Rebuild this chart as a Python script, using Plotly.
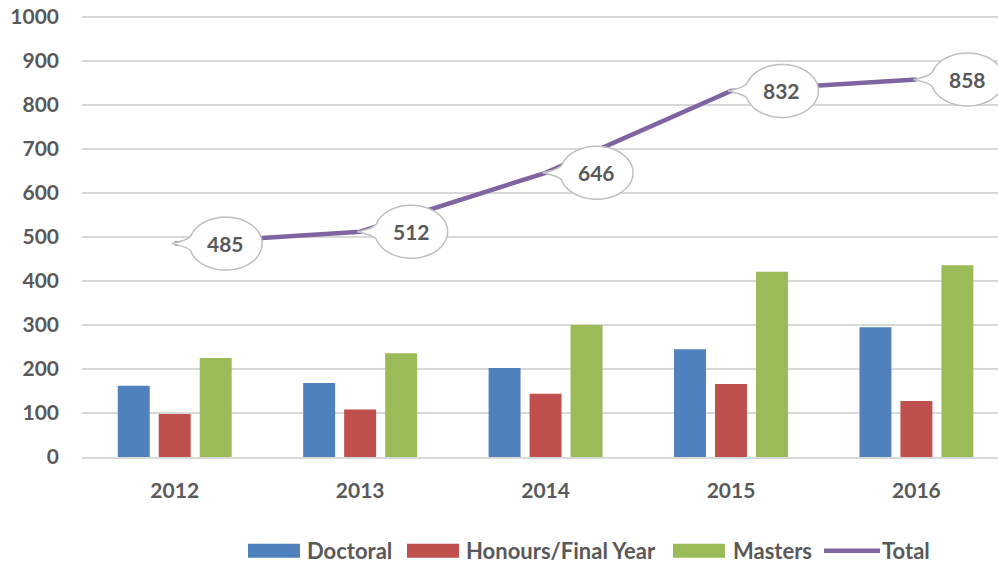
import math
import plotly.graph_objects as go

years = ["2012", "2013", "2014", "2015", "2016"]
doctoral = [162, 168, 202, 245, 295]
honours = [98, 108, 144, 166, 127]
masters = [225, 236, 300, 421, 436]
total = [485, 512, 646, 832, 858]

series_names = ["Doctoral", "Honours/Final Year", "Masters", "Total"]
colors = ["#4F81BD", "#C0504D", "#9BBB59", "#8064A2"]
TXT = "#595959"
FONT = "Lato"

OFF = 0  # page body margin removed via post_script
W, H = 998.0, 565.0
L, R, T, B = 82, 0, 16, 108
PW, PH = W - L - R, H - T - B

def px(xpage):
    return (xpage - OFF - L) / PW

def py(ypage):
    return (H - B - (ypage - OFF)) / PH

fig = go.Figure()
for name, vals, col in zip(series_names[:3], [doctoral, honours, masters], colors[:3]):
    fig.add_trace(go.Bar(x=years, y=vals, name=name, marker=dict(color=col, line=dict(width=0)),
                         showlegend=False))
fig.add_trace(go.Scatter(x=years, y=total, name=series_names[3], mode="lines",
                         line=dict(color=colors[3], width=4.5), showlegend=False))

def bubble_path(cx=51, rx=36.5, ry=26.5, tip=(-3, 0), a_start=200, a_end=160):
    pts = []
    a = a_start
    end = a_end + 360
    step = 6
    while a <= end + 1e-9:
        t = math.radians(a)
        pts.append((cx + rx * math.cos(t), ry * math.sin(t)))
        a += step
    d = "M%.2f,%.2f" % pts[0] + "".join("L%.2f,%.2f" % p for p in pts[1:])
    d += "Q%.2f,%.2f %.2f,%.2f" % (cx - rx + 2, 4, tip[0], tip[1])
    d += "Q%.2f,%.2f %.2f,%.2fZ" % (cx - rx + 2, -4, pts[0][0], pts[0][1])
    return d

shapes = []
annotations = []
for i, v in enumerate(total):
    shapes.append(dict(type="path", xref="x", yref="y", xsizemode="pixel", ysizemode="pixel",
                       xanchor=i, yanchor=v, path=bubble_path(),
                       fillcolor="white", line=dict(color="#BFBFBF", width=1.5), layer="above"))
    annotations.append(dict(x=i, y=v, xref="x", yref="y", text=str(v), showarrow=False,
                            xshift=51, yshift=0,
                            font=dict(family=FONT, size=21, color=TXT, weight="bold")))

leg_yc = 550.7
leg_items = [
    (series_names[0], colors[0], "bar", 248, 300, 305),
    (series_names[1], colors[1], "bar", 407, 459, 464),
    (series_names[2], colors[2], "bar", 673, 725, 731),
    (series_names[3], colors[3], "line", 824, 880, 880),
]
for name, col, kind, sx0, sx1, tx in leg_items:
    if kind == "bar":
        shapes.append(dict(type="rect", xref="paper", yref="paper",
                           x0=px(sx0), x1=px(sx1), y0=py(leg_yc + 7), y1=py(leg_yc - 7),
                           fillcolor=col, line=dict(width=0)))
    else:
        shapes.append(dict(type="line", xref="paper", yref="paper",
                           x0=px(sx0), x1=px(sx1), y0=py(leg_yc), y1=py(leg_yc),
                           line=dict(color=col, width=4.5)))
    annotations.append(dict(x=px(tx), y=py(leg_yc), xref="paper", yref="paper",
                            xanchor="left", yanchor="middle", text=name, showarrow=False,
                            font=dict(family=FONT, size=22, color=TXT, weight="bold")))

fig.update_layout(
    width=W, height=H,
    margin=dict(l=L, r=R, t=T, b=B, autoexpand=False),
    paper_bgcolor="white", plot_bgcolor="white",
    barmode="group", bargap=0.337, bargroupgap=0.22,
    shapes=shapes, annotations=annotations,
    font=dict(family=FONT, color=TXT),
)
fig.update_xaxes(type="category", range=[-0.5, 4.44], showgrid=False, showline=True,
                 linecolor="#D9D9D9", linewidth=1.5, ticks="", ticklabelstandoff=14,
                 automargin=False,
                 tickfont=dict(family=FONT, size=21, color=TXT, weight="bold"))
fig.update_yaxes(range=[0, 1002.3], tickvals=list(range(0, 1001, 100)), showgrid=True,
                 gridcolor="#D9D9D9", gridwidth=1.5, zeroline=False, showline=False,
                 ticks="", ticklabelstandoff=22, automargin=False, ticklabeloverflow="allow",
                 tickfont=dict(family=FONT, size=21, color=TXT, weight="bold"))

fig.write_html("out.html", config={"displayModeBar": False},
               post_script="document.body.style.margin='0px';document.body.style.overflow='hidden';")
